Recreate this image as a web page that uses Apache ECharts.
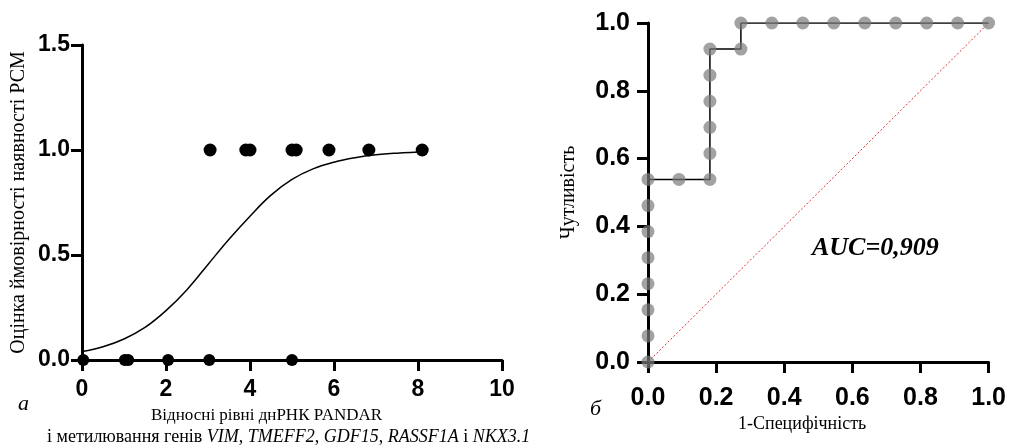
<!DOCTYPE html>
<html>
<head>
<meta charset="utf-8">
<script src="https://cdn.jsdelivr.net/npm/echarts@6/dist/echarts.min.js"></script>
<style>
html,body{margin:0;padding:0;background:#fff;}
#main{width:1009px;height:447px;}
</style>
</head>
<body>
<div id="main"></div>
<script>
// ліва панель: точки (1 = РСМ, 0 = без РСМ)
var posX = [3.05, 3.9, 4.0, 5.0, 5.1, 5.88, 6.83, 8.1];
var negX = [0.03, 1.02, 1.1, 2.05, 3.03, 5.0];
// логістична крива
var curveX = [0, 0.5, 1, 1.5, 2, 2.5, 3, 3.5, 4, 4.5, 5, 5.5, 6, 6.5, 7, 7.5, 8, 8.2];
var curveY = [0.04, 0.063, 0.10, 0.155, 0.235, 0.335, 0.455, 0.575, 0.685, 0.785, 0.86, 0.91, 0.942, 0.963, 0.977, 0.985, 0.99, 0.992];
// права панель: ROC
var fpr = [0, 0, 0, 0, 0, 0, 0, 0, 0.0909, 0.1818, 0.1818, 0.1818, 0.1818, 0.1818, 0.1818, 0.2727, 0.2727,
    0.3636, 0.4545, 0.5455, 0.6364, 0.7273, 0.8182, 0.9091, 1.0];
var tpr = [0, 0.0769, 0.1538, 0.2308, 0.3077, 0.3846, 0.4615, 0.5385, 0.5385, 0.5385, 0.6154, 0.6923, 0.7692, 0.8462, 0.9231, 0.9231, 1,
    1, 1, 1, 1, 1, 1, 1, 1];
var leftTicks = ['0.0', '0.5', '1.0', '1.5'];

function zip(a, b) {
    var r = [];
    for (var i = 0; i < a.length; i++) r.push([a[i], b[i]]);
    return r;
}

var tickFont = {fontFamily: 'Liberation Sans', fontWeight: 'bold', color: '#000'};
var serif = 'Liberation Serif';
var axisLine = {show: true, onZero: false, lineStyle: {color: '#000', width: 3}};
var axisTick = {show: true, length: 11, lineStyle: {color: '#000', width: 3}};

var myChart = echarts.init(document.getElementById('main'));
var option = {
    animation: false,
    backgroundColor: '#fff',
    grid: [
        {left: 82, top: 45, width: 420, height: 315},
        {left: 648, top: 23, width: 341, height: 339}
    ],
    xAxis: [
        {gridIndex: 0, type: 'value', min: 0, max: 10, interval: 2,
            axisLine: axisLine, axisTick: axisTick, splitLine: {show: false},
            axisLabel: Object.assign({fontSize: 23, margin: 18}, tickFont)},
        {gridIndex: 1, type: 'value', min: 0, max: 1, interval: 0.2,
            axisLine: axisLine, axisTick: axisTick, splitLine: {show: false},
            axisLabel: Object.assign({fontSize: 25, margin: 24, formatter: function(v){return v.toFixed(1);}}, tickFont)}
    ],
    yAxis: [
        {gridIndex: 0, type: 'value', min: 0, max: 1.5, interval: 0.5,
            axisLine: axisLine, axisTick: axisTick, splitLine: {show: false},
            axisLabel: Object.assign({fontSize: 23, margin: 12, formatter: function(v, i){return leftTicks[i];}}, tickFont),
            name: 'Оцінка ймовірності наявності РСМ', nameLocation: 'middle', nameRotate: 90, nameGap: 53,
            nameTextStyle: {fontFamily: serif, fontSize: 20, color: '#000'}},
        {gridIndex: 1, type: 'value', min: 0, max: 1, interval: 0.2,
            axisLine: axisLine, axisTick: axisTick, splitLine: {show: false},
            axisLabel: Object.assign({fontSize: 25, margin: 18, formatter: function(v){return v.toFixed(1);}}, tickFont),
            name: 'Чутливість', nameLocation: 'middle', nameRotate: 90, nameGap: 69,
            nameTextStyle: {fontFamily: serif, fontSize: 20, color: '#000'}}
    ],
    series: [
        {type: 'line', xAxisIndex: 0, yAxisIndex: 0, data: zip(curveX, curveY), smooth: 0.4,
            showSymbol: false, lineStyle: {color: '#000', width: 1.5}},
        {type: 'scatter', xAxisIndex: 0, yAxisIndex: 0, clip: false, symbolSize: 13,
            itemStyle: {color: '#000', opacity: 1}, data: posX.map(function(x){return [x, 1];})},
        {type: 'scatter', xAxisIndex: 0, yAxisIndex: 0, clip: false, symbolSize: 12,
            itemStyle: {color: '#000', opacity: 1}, data: negX.map(function(x){return [x, 0];})},
        {type: 'line', xAxisIndex: 1, yAxisIndex: 1, data: [[0, 0], [1, 1]], showSymbol: false,
            lineStyle: {color: '#e03030', width: 1, type: [2, 2]}},
        {type: 'line', xAxisIndex: 1, yAxisIndex: 1, data: zip(fpr, tpr), showSymbol: false,
            lineStyle: {color: '#000', width: 1.5}, z: 3},
        {type: 'scatter', xAxisIndex: 1, yAxisIndex: 1, clip: false, symbolSize: 13, z: 4,
            itemStyle: {color: '#7a7a7a', opacity: 0.7}, data: zip(fpr, tpr)}
    ],
    graphic: [
        {type: 'text', left: 18, top: 393, style: {text: 'а', font: 'italic 22px "Liberation Serif"', fill: '#000'}},
        {type: 'text', left: 151, top: 407, style: {text: 'Відносні рівні днРНК PANDAR', font: '17px "Liberation Serif"', fill: '#000'}},
        {type: 'text', left: 47, top: 428, style: {
            text: 'і метилювання генів {i|VIM}, {i|TMEFF2}, {i|GDF15}, {i|RASSF1A} і {i|NKX3.1}',
            font: '18px "Liberation Serif"', fill: '#000',
            rich: {i: {fontStyle: 'italic', fontFamily: serif, fontSize: 18}}}},
        {type: 'text', left: 590, top: 398, style: {text: 'б', font: 'italic 22px "Liberation Serif"', fill: '#000'}},
        {type: 'text', left: 738, top: 415, style: {text: '1-Специфічність', font: '18px "Liberation Serif"', fill: '#000'}},
        {type: 'text', left: 812, top: 235, style: {text: 'AUC=0,909', font: 'italic bold 26px "Liberation Serif"', fill: '#000'}}
    ]
};
myChart.setOption(option);
</script>
</body>
</html>
